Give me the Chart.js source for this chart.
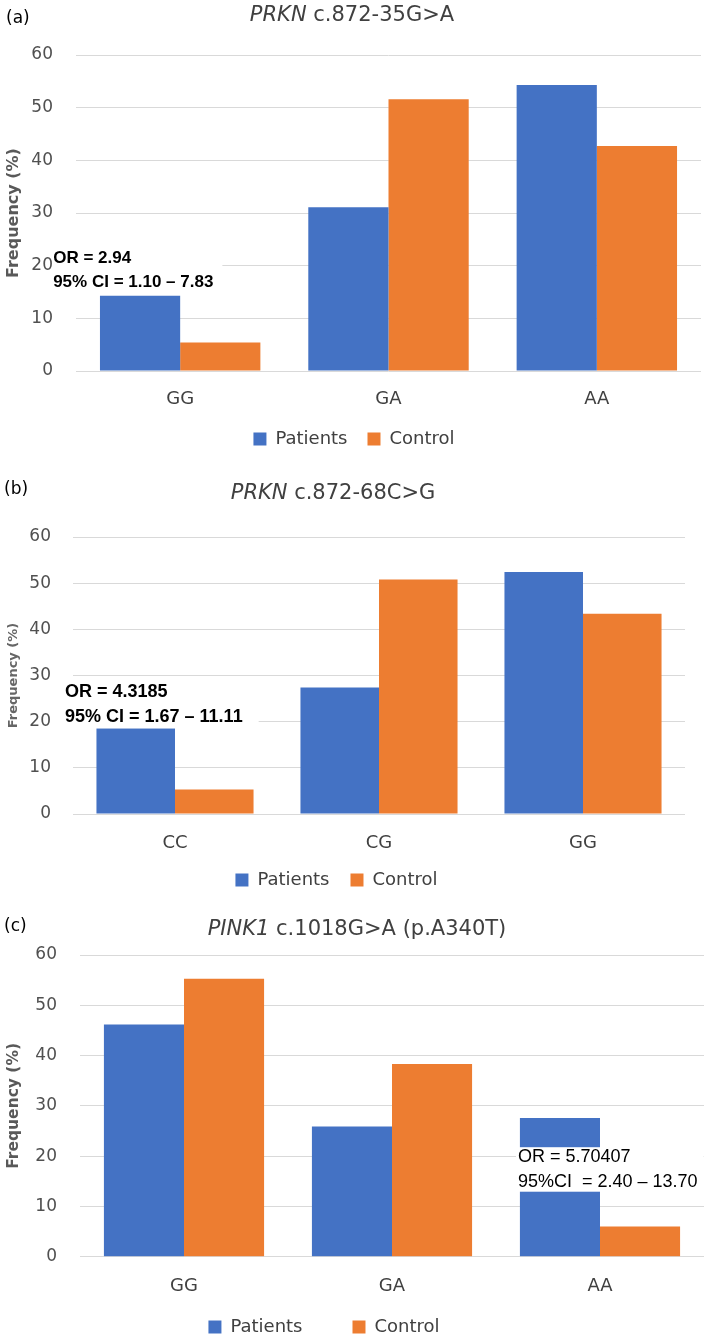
<!DOCTYPE html>
<html>
<head>
<meta charset="utf-8">
<title>PRKN / PINK1 genotype frequencies</title>
<script src="https://cdn.jsdelivr.net/npm/chart.js@4.4.1/dist/chart.umd.min.js"></script>
<style>
  html, body { margin: 0; padding: 0; background: #fff; overflow: hidden; }
  #figure { position: relative; width: 709px; height: 1338px; overflow: hidden; background: #fff; }
  #figure canvas { position: absolute; left: 0; }
  .tag, .ttl { position: absolute; white-space: nowrap; font-family: "DejaVu Sans", sans-serif; line-height: 1; }
  .tag { font-size: 17px; color: #000; transform: translate(0, -50%); }
  .ttl { font-size: 21px; color: #404040; transform: translate(-50%, -50%); }
</style>
</head>
<body>
<div id="figure">
  <canvas id="panelA" width="709" height="460" style="top:0px"></canvas>
  <canvas id="panelB" width="709" height="451" style="top:450px"></canvas>
  <canvas id="panelC" width="709" height="456" style="top:890px"></canvas>

  <div class="tag" style="left:6px;top:17px">(a)</div>
  <div class="ttl" style="left:352px;top:14px"><i>PRKN</i> c.872-35G&gt;A</div>

  <div class="tag" style="left:4px;top:488px">(b)</div>
  <div class="ttl" style="left:333px;top:492px"><i>PRKN</i> c.872-68C&gt;G</div>

  <div class="tag" style="left:4px;top:925px">(c)</div>
  <div class="ttl" style="left:357px;top:928px"><i>PINK1</i> c.1018G&gt;A (p.A340T)</div>
</div>

<script>
'use strict';

// Values (frequency in %)
var SERIES = ['Patients', 'Control'];
var Y_TICKS = [0, 10, 20, 30, 40, 50, 60];

var prknA_genotypes = ['GG', 'GA', 'AA'];
var prknA_patients = [14.3, 31.1, 54.3];
var prknA_control = [5.4, 51.6, 42.7];
var prknA_note = ['OR = 2.94', '95% CI = 1.10 \u2013 7.83'];

var prknB_genotypes = ['CC', 'CG', 'GG'];
var prknB_patients = [18.5, 27.4, 52.4];
var prknB_control = [5.3, 50.8, 43.4];
var prknB_note = ['OR = 4.3185', '95% CI = 1.67 \u2013 11.11'];

var pink1_genotypes = ['GG', 'GA', 'AA'];
var pink1_patients = [46.2, 25.9, 27.6];
var pink1_control = [55.3, 38.3, 6.0];
var pink1_note = ['OR = 5.70407', '95%CI  = 2.40 \u2013 13.70'];

var COLORS = ['#4472C4', '#ED7D31'];

// Draws the OR / CI text on a white patch, anchored to the scales
var noteBox = {
    id: 'noteBox',
    afterDatasetsDraw: function(chart, args, o) {
        if (!o || !o.lines) return;
        var ctx = chart.ctx;
        var x = chart.scales.x.getPixelForValue(o.category) + o.dx;
        var mid = chart.scales.y.getPixelForValue(o.value);
        var w = 0;
        ctx.save();
        ctx.font = o.font;
        o.lines.forEach(function(t) { w = Math.max(w, ctx.measureText(t).width); });
        ctx.fillStyle = '#fff';
        ctx.fillRect(x + o.box[2], mid + o.box[0], w - o.box[2] + o.box[3], o.box[1] - o.box[0]);
        ctx.fillStyle = '#000';
        ctx.textBaseline = 'middle';
        o.lines.forEach(function(t, i) {
            ctx.fillText(t, x, mid + (i - (o.lines.length - 1) / 2) * o.gap);
        });
        ctx.restore();
    }
};

// Nudges the legend (the original legends are not quite centred)
var legendShift = {
    id: 'legendShift',
    afterLayout: function(chart, args, o) {
        if (!chart.legend || !o) return;
        if (o.dx) {
            chart.legend.left += o.dx;
            chart.legend.right += o.dx;
        }
        // only the top moves: the legend clips to its box, so let it grow upwards
        if (o.dy) {
            chart.legend.top += o.dy;
        }
    }
};

var Figure = {
    panels: [{
        id: 'panelA', labels: prknA_genotypes, patients: prknA_patients, control: prknA_control,
        padding: {top: 55, right: 8, bottom: 2, left: 0},
        yWidth: 76, yPad: 23, xHeight: 39, xPad: 18,
        yTitle: {size: 16, pad: 4, color: '#595959'},
        legendPad: 20, legendMax: null, legendDx: 3.5, legendDy: 0,
        note: {lines: prknA_note, category: 0, dx: -127, value: 19.2, gap: 24,
               font: 'bold 17px "Liberation Sans"', box: [-23, 24, -1, 9]}
    }, {
        id: 'panelB', labels: prknB_genotypes, patients: prknB_patients, control: prknB_control,
        padding: {top: 87, right: 24, bottom: 2, left: 0},
        yWidth: 73, yPad: 22, xHeight: 36, xPad: 19,
        yTitle: {size: 13, pad: 6, color: '#666666'},
        legendPad: 21, legendMax: null, legendDx: -6, legendDy: 0,
        note: {lines: prknB_note, category: 0, dx: -110, value: 23.7, gap: 24.5,
               font: 'bold 18px "Liberation Sans"', box: [-24, 23.5, -2, 16]}
    }, {
        // wide gap between the legend items: keep the legend box short, then lift it
        id: 'panelC', labels: pink1_genotypes, patients: pink1_patients, control: pink1_control,
        padding: {top: 65, right: 5, bottom: 0, left: 0},
        yWidth: 80, yPad: 23, xHeight: 49.3, xPad: 18.5,
        yTitle: {size: 15.5, pad: 5, color: '#595959'},
        legendPad: 50, legendMax: 40, legendDx: -28, legendDy: -38,
        note: {lines: pink1_note, category: 2, dx: -82, value: 17.3, gap: 25,
               font: '18px "Liberation Sans"', box: [-22.5, 22, -2, 6]}
    }],

    init: function() {
        Chart.defaults.font.family = '"DejaVu Sans", sans-serif';
        this.panels.forEach(this.renderPanel);
    },

    renderPanel: function(p) {
        var ctx = document.getElementById(p.id);

        var legend = {
            position: 'bottom',
            labels: {
                boxWidth: 13,
                boxHeight: 13,
                padding: p.legendPad,
                color: '#404040',
                font: { size: 18 }
            }
        };
        if (p.legendMax) legend.maxHeight = p.legendMax;

        var config = {
            type: 'bar',
            data: {
                labels: p.labels,
                datasets: [p.patients, p.control].map(function(values, i) {
                    return {
                        label: SERIES[i],
                        data: values,
                        backgroundColor: COLORS[i],
                        borderWidth: 0,
                        categoryPercentage: 0.77,
                        barPercentage: 1.0
                    };
                })
            },
            options: {
                responsive: false,
                animation: false,
                devicePixelRatio: 1,
                layout: { padding: p.padding },
                plugins: {
                    title: { display: false },
                    tooltip: { enabled: false },
                    legend: legend,
                    legendShift: { dx: p.legendDx, dy: p.legendDy },
                    noteBox: p.note
                },
                scales: {
                    x: {
                        grid: { display: false, drawTicks: false },
                        border: { display: false },
                        ticks: { color: '#404040', font: { size: 18 }, padding: p.xPad },
                        afterFit: function(scale) { scale.height = p.xHeight; }
                    },
                    y: {
                        min: Y_TICKS[0],
                        max: Y_TICKS[Y_TICKS.length - 1],
                        grid: { color: '#d9d9d9', drawTicks: false },
                        border: { display: false },
                        ticks: {
                            stepSize: Y_TICKS[1] - Y_TICKS[0],
                            color: '#505050',
                            font: { size: 17 },
                            padding: p.yPad
                        },
                        title: {
                            display: true,
                            text: 'Frequency (%)',
                            color: p.yTitle.color,
                            font: { size: p.yTitle.size, weight: 'bold' },
                            padding: { top: p.yTitle.pad, bottom: 0 }
                        },
                        afterFit: function(scale) { scale.width = p.yWidth; }
                    }
                }
            },
            plugins: [noteBox, legendShift]
        };

        new Chart(ctx, config);
    }
};

Figure.init();
</script>
</body>
</html>
